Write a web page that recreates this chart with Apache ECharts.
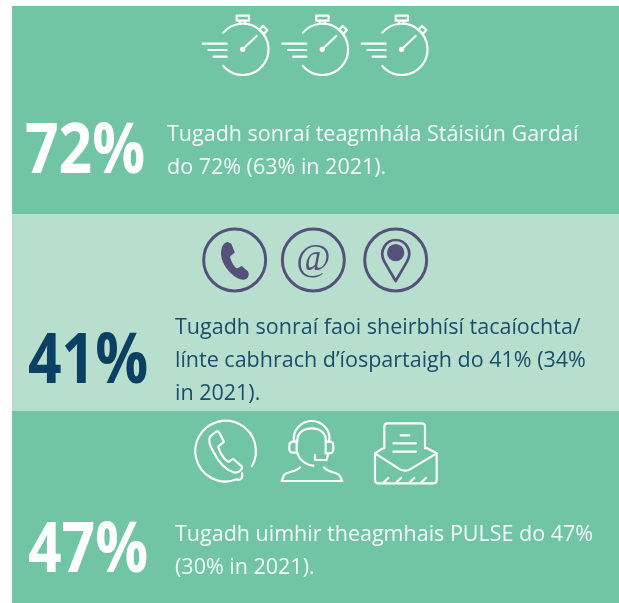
<!DOCTYPE html>
<html>
<head>
<meta charset="utf-8">
<title>Tugadh sonraí</title>
<script src="https://cdn.jsdelivr.net/npm/echarts@6/dist/echarts.min.js"></script>
<style>
  html, body { margin: 0; padding: 0; background: #fff; }
  #chart { width: 619px; height: 603px; }
</style>
</head>
<body>
<div id="chart"></div>
<script>
// values
var percents = ['72%', '41%', '47%'];
var captions = [
  ['Tugadh sonraí teagmhála Stáisiún Gardaí', 'do 72% (63% in 2021).'],
  ['Tugadh sonraí faoi sheirbhísí tacaíochta/', 'línte cabhrach d’íospartaigh do 41% (34%', 'in 2021).'],
  ['Tugadh uimhir theagmhais PULSE do 47%', '(30% in 2021).']
];

var GREEN = '#72c5a4';
var LIGHT = '#b8dfcd';
var PURPLE = '#55517a';
var NAVY = '#0b4063';
var FONT = '"Open Sans", sans-serif';

var chart = echarts.init(document.getElementById('chart'));

function band(y, h, fill) {
  return { type: 'rect', shape: { x: 12, y: y, width: 607, height: h }, style: { fill: fill } };
}

// big percentage, squeezed because the condensed cut is not installed
function bigNumber(text, x, y, fill) {
  return {
    type: 'text', x: x, y: y, scaleX: 0.84,
    style: { text: text, fill: fill, font: 'bold 70px ' + FONT, verticalAlign: 'middle' }
  };
}

function captionText(lines, x, y, gap, fill) {
  return lines.map(function (line, i) {
    return {
      type: 'text', x: x, y: y + i * gap,
      style: { text: line, fill: fill, font: '21.5px ' + FONT, verticalAlign: 'middle', opacity: 0.92 }
    };
  });
}

// icon paths below are in 3x crop coordinates, hence the group scale
function line(d, color, w) {
  return {
    type: 'path', shape: { pathData: d },
    style: { fill: 'none', stroke: color, lineWidth: w, lineCap: 'round', lineJoin: 'round' }
  };
}
function solid(d, color) {
  return { type: 'path', shape: { pathData: d }, style: { fill: color, stroke: color, lineWidth: 4, lineJoin: 'round' } };
}
function icon(x, y, children) {
  return { type: 'group', x: x, y: y, scaleX: 1 / 3, scaleY: 1 / 3, children: children };
}

var w = '#fff';
var SW = 6.5;

function stopwatch(x) {
  return icon(x, 0, [
    line('M100 98A77 77 0 1 1 100 198', w, SW),
    line('M38 131H110M55 150H110M71 170H110', w, SW),
    line('M158 148L200 108', w, SW),
    { type: 'circle', shape: { cx: 158, cy: 148, r: 8 }, style: { fill: w } },
    line('M140 47H177V62H140ZM150 62V72M166 62V72', w, SW),
    line('M219 78L232 90L222 101L208 90Z', w, SW)
  ]);
}

function ring(cx, cy) {
  return {
    type: 'circle', shape: { cx: cx, cy: cy, r: 93 },
    style: { fill: 'none', stroke: PURPLE, lineWidth: 9 }
  };
}

var elements = [
  band(6, 208, GREEN),
  band(214, 197, LIGHT),
  band(411, 192, GREEN),

  stopwatch(190),
  stopwatch(190 + 79.6),
  stopwatch(190 + 159),

  icon(190, 220, [
    ring(134, 120), ring(370, 120), ring(617, 120),
    solid('M112 68C95 75 92 95 97 115C105 145 135 175 160 177C172 177 178 165 172 155L155 140C150 142 145 148 140 147C128 140 122 125 118 112C118 105 128 102 132 97L122 72Z', PURPLE),
    {
      type: 'text', x: 370, y: 122,
      style: { text: '@', fill: PURPLE, font: '112px "Liberation Serif", serif', align: 'center', verticalAlign: 'middle' }
    },
    line('M617 183L583 125C565 90 590 60 617 60C645 60 670 90 651 125Z', PURPLE, 8),
    { type: 'circle', shape: { cx: 617, cy: 98, r: 26 }, style: { fill: PURPLE } }
  ]),

  icon(180, 410, [
    // phone
    line('M216 168A91 91 0 1 0 170 208C180 212 190 205 186 190', w, SW),
    line('M107 66L90 80C85 90 88 105 100 125C115 155 135 178 160 187C175 190 187 180 186 170L160 147C155 148 150 155 145 155C130 148 118 125 115 110C118 105 125 102 132 95L118 68C115 64 110 64 107 66Z', w, SW),
    // headset
    line('M343 95C335 60 365 33 395 33C425 33 455 60 447 95', w, SW),
    line('M352 95C350 70 370 55 395 55C420 55 440 70 437 95', w, SW),
    line('M350 95H340Q328 95 328 107V116Q328 128 340 128H350ZM437 95H448Q460 95 460 107V118Q460 130 448 130H437Z', w, SW),
    line('M352 128C355 145 375 165 400 167', w, SW),
    line('M445 130L440 150H405V135', w, SW),
    line('M360 172C350 185 320 185 312 195L305 213H487L478 195C465 185 440 185 432 172', w, SW),
    // envelope
    line('M613 115V50Q613 40 623 40H725Q735 40 735 50V115', w, SW),
    line('M662 76H688M640 100H708M640 125H708', w, SW),
    line('M613 112L585 130V210Q585 220 595 220H760Q770 220 770 210V130L735 112', w, SW),
    line('M585 130L660 178Q675 186 690 178L770 130', w, SW),
    line('M612 216L625 204M650 216L663 204M690 216L703 204M725 216L738 204', w, SW)
  ]),

  bigNumber(percents[0], 25, 153, w),
  bigNumber(percents[1], 28, 363, NAVY),
  bigNumber(percents[2], 28, 552, w)
];

elements = elements
  .concat(captionText(captions[0], 167, 135, 33, w))
  .concat(captionText(captions[1], 175, 328, 33, NAVY))
  .concat(captionText(captions[2], 175, 535, 33, w));

chart.setOption({
  backgroundColor: '#fff',
  animation: false,
  series: [{
    type: 'custom',
    coordinateSystem: 'none',
    silent: true,
    data: [0],
    renderItem: function () {
      return { type: 'group', children: elements };
    }
  }]
});
</script>
</body>
</html>
